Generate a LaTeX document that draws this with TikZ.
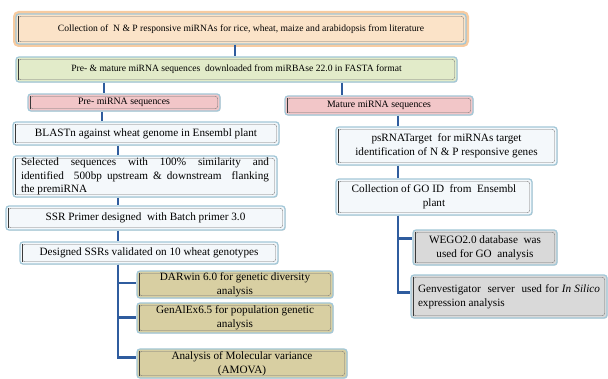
\documentclass[tikz,border=0pt]{standalone}
\usepackage{fontspec}
\setmainfont{Liberation Serif}
\usetikzlibrary{calc,shadows}
\definecolor{peach}{HTML}{FBE3C8}
\definecolor{glow}{HTML}{F2A860}
\definecolor{lgreen}{HTML}{E2EBC9}
\definecolor{pinkf}{HTML}{F2C6C8}
\definecolor{lightf}{HTML}{F4F8FB}
\definecolor{khaki}{HTML}{D8CFA2}
\definecolor{grayf}{HTML}{D9D9D9}
\definecolor{bordblue}{HTML}{A3C8D8}
\definecolor{connblue}{HTML}{2F5C9E}
\definecolor{innerdark}{HTML}{3A3A3A}
\tikzset{
  box/.style={draw=bordblue, line width=1.3pt, rounded corners=3pt, inner sep=3pt,
    align=center, font=\fontsize{11.2}{13.8}\selectfont,
    drop shadow={shadow xshift=0.7pt, shadow yshift=-0.7pt, opacity=0.3},
    path picture={
      \draw[innerdark!70, line width=0.35pt]
        ([shift={(2.2pt,-2.2pt)}]path picture bounding box.north west) rectangle
        ([shift={(-2.2pt,2.2pt)}]path picture bounding box.south east);
      \draw[innerdark, line width=1pt]
        ([shift={(2.7pt,-2.4pt)}]path picture bounding box.north west) --
        ([shift={(2.7pt,2.4pt)}]path picture bounding box.south west);
    }},
  pinkbox/.style={box, fill=pinkf, inner sep=1pt, font=\fontsize{9.8}{11}\selectfont},
  conn/.style={draw=connblue, line width=2.4pt},
  tree/.style={draw=connblue, line width=2.2pt},
}
\begin{document}
\begin{tikzpicture}[x=1pt,y=-1pt]
\useasboundingbox (0,0) rectangle (608,379);
% nodes
\node[box, fill=peach, minimum width=450pt, minimum height=30pt,
  font=\fontsize{9.6}{11}\selectfont,
  preaction={draw=glow, line width=6pt, opacity=0.6, rounded corners=4pt}]
  (top) at (241,29) {Collection of\ \ N \& P responsive miRNAs for rice, wheat, maize and arabidopsis from literature};
\node[box, fill=lgreen, minimum width=441pt, minimum height=25pt,
  font=\fontsize{9.6}{11}\selectfont]
  (green) at (236.5,69.5) {Pre- \& mature miRNA sequences\ \ downloaded from miRBAse 22.0 in FASTA format};
\node[pinkbox, minimum width=192pt, minimum height=17pt]
  (pre) at (124,102.5) {Pre- miRNA sequences};
\node[pinkbox, minimum width=188pt, minimum height=19pt]
  (mature) at (379,105.5) {Mature miRNA sequences};
\node[box, fill=lightf, minimum width=266pt, minimum height=23pt]
  (blast) at (146,133.5) {BLASTn against wheat genome in Ensembl plant};
\node[box, fill=lightf, minimum width=264pt, minimum height=41pt, inner sep=0pt,
  text width=248pt, align=justify]
  (sel) at (145,176.5) {Selected sequences with 100\% similarity and\linebreak identified\ \ 500bp upstream \& downstream\ \ flanking\linebreak the premiRNA};
\node[box, fill=lightf, minimum width=279pt, minimum height=24pt]
  (ssr) at (145.5,218) {SSR Primer designed\ \ with Batch primer 3.0};
\node[box, fill=lightf, minimum width=258pt, minimum height=22pt]
  (des) at (149,253) {Designed SSRs validated on 10 wheat genotypes};
\node[box, fill=khaki, minimum width=196pt, minimum height=27pt, inner sep=0pt]
  (darwin) at (235,284.5) {DARwin 6.0 for genetic diversity\\analysis};
\node[box, fill=khaki, minimum width=196pt, minimum height=30pt, inner sep=0pt]
  (genalex) at (235,318) {GenAlEx6.5 for population genetic\\analysis};
\node[box, fill=khaki, minimum width=210pt, minimum height=29pt, inner sep=0pt]
  (amova) at (242,363.5) {Analysis of Molecular variance\\(AMOVA)};
\node[box, fill=lightf, minimum width=221pt, minimum height=38pt, inner sep=0pt]
  (psrna) at (446.5,146) {psRNATarget\ \ for miRNAs target\\identification of N\ \& P responsive genes};
\node[box, fill=lightf, minimum width=196pt, minimum height=36pt, inner sep=0pt]
  (goid) at (434,197) {Collection of GO ID\ \ from\ \ Ensembl\\plant};
\node[box, fill=grayf, minimum width=144pt, minimum height=35pt, inner sep=0pt]
  (wego) at (485,247.5) {WEGO2.0 database\ \ was\\used for GO\ \ analysis};
\node[box, fill=grayf, minimum width=196pt, minimum height=43pt, inner sep=0pt,
  text width=182pt, align=justify]
  (genv) at (509,296.5) {Genvestigator\ \ server\ \ used for \textit{In Silico}\linebreak expression analysis};
% x positions of connectors
\coordinate (c1) at (235,0);
\coordinate (c2) at (104,0);
\coordinate (c3) at (342,0);
\coordinate (c4) at (102,0);
\coordinate (c5) at (118,0);
\coordinate (c6) at (398,0);
% short connectors
\draw[conn] (top.south -| c1) -- (green.north -| c1);
\draw[conn] (green.south -| c2) -- (pre.north -| c2);
\draw[conn] (green.south -| c3) -- (mature.north -| c3);
\draw[conn] (pre.south -| c4) -- (blast.north -| c4);
\draw[conn] (blast.south -| c5) -- (sel.north -| c5);
\draw[conn] (sel.south -| c5) -- (ssr.north -| c5);
\draw[conn] (ssr.south -| c5) -- (des.north -| c5);
\draw[conn] (mature.south -| c6) -- (psrna.north -| c6);
\draw[conn] (psrna.south -| c6) -- (goid.north -| c6);
% trees
\draw[tree] (des.south -| c5) |- ([yshift=1.5pt]darwin.west);
\draw[tree] (des.south -| c5) |- ([yshift=0.5pt]genalex.west);
\draw[tree] (des.south -| c5) |- ([yshift=6pt]amova.west);
\draw[tree] (goid.south -| c6) |- ([yshift=9pt]wego.west);
\draw[tree] (goid.south -| c6) |- ([yshift=4pt]genv.west);
\end{tikzpicture}
\end{document}
